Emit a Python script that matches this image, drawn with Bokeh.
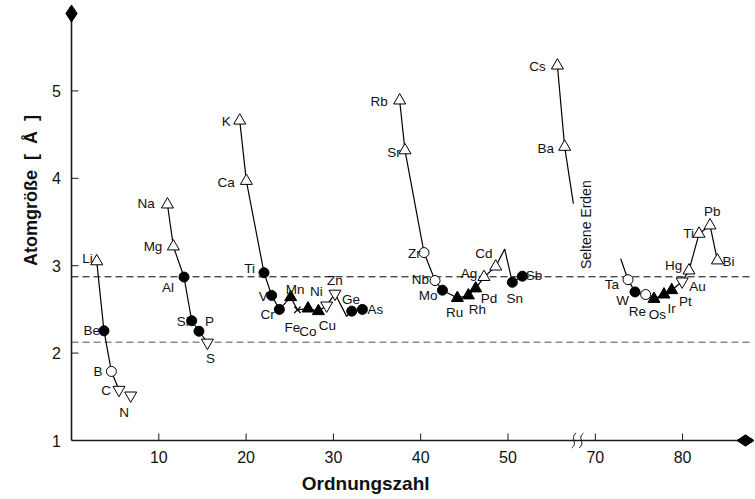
import numpy as np
from bokeh.plotting import figure
from bokeh.models import Range1d, ColumnDataSource
from bokeh.core.properties import value
from bokeh.embed import file_html
from bokeh.resources import INLINE

# ---------------- data ----------------
ELEMENTS = ["Li", "Be", "B", "C", "N",
            "Na", "Mg", "Al", "Si", "P", "S",
            "K", "Ca", "Ti", "V", "Cr", "Mn", "Fe", "Co", "Ni", "Cu", "Zn", "Ge", "As",
            "Rb", "Sr", "Zr", "Nb", "Mo", "Ru", "Rh", "Pd", "Ag", "Cd", "Sn", "Sb",
            "Cs", "Ba",
            "Ta", "W", "Re", "Os", "Ir", "Pt", "Au", "Hg", "Tl", "Pb", "Bi"]
# text shown next to each point (the chart prints "Ti" for thallium)
LABELS = ["Li", "Be", "B", "C", "N",
          "Na", "Mg", "Al", "Si", "P", "S",
          "K", "Ca", "Ti", "V", "Cr", "Mn", "Fe", "Co", "Ni", "Cu", "Zn", "Ge", "As",
          "Rb", "Sr", "Zr", "Nb", "Mo", "Ru", "Rh", "Pd", "Ag", "Cd", "Sn", "Sb",
          "Cs", "Ba",
          "Ta", "W", "Re", "Os", "Ir", "Pt", "Au", "Hg", "Ti", "Pb", "Bi"]
ORDNUNGSZAHL = [2.89, 3.72, 4.57, 5.44, 6.78,
                10.99, 11.67, 12.89, 13.77, 14.60, 15.57,
                19.27, 20.03, 22.05, 22.93, 23.81, 25.11, 25.88, 27.09, 28.28, 29.23, 30.18, 32.10, 33.32,
                37.59, 38.20, 40.38, 41.64, 42.49, 44.20, 45.46, 46.30, 47.25, 48.59, 50.50, 51.65,
                55.66, 56.49,
                73.75, 74.55, 75.77, 76.72, 77.87, 78.75, 79.95, 80.73, 81.88, 83.14, 83.99]
ATOMGROESSE = [3.05, 2.255, 1.79, 1.58, 1.515,
               3.70, 3.22, 2.87, 2.37, 2.25, 2.12,
               4.66, 3.97, 2.92, 2.66, 2.50, 2.64, 2.495, 2.51, 2.48, 2.545, 2.68, 2.48, 2.50,
               4.89, 4.32, 3.15, 2.83, 2.72, 2.63, 2.66, 2.74, 2.87, 2.99, 2.81, 2.88,
               5.29, 4.36,
               2.84, 2.70, 2.67, 2.62, 2.67, 2.72, 2.82, 2.945, 3.365, 3.46, 3.06]
STRUKTUR = ["tri_open", "dot", "ring", "tri_down", "tri_down",
            "tri_open", "tri_open", "dot", "dot", "dot", "tri_down",
            "tri_open", "tri_open", "dot", "dot", "dot", "tri_fill", "cross", "tri_fill", "tri_fill", "tri_down", "tri_down", "dot", "dot",
            "tri_open", "tri_open", "ring", "ring", "dot", "tri_fill", "tri_fill", "tri_fill", "tri_open", "tri_open", "dot", "dot",
            "tri_open", "tri_open",
            "ring", "dot", "ring", "tri_fill", "tri_fill", "tri_fill", "tri_down", "tri_open", "tri_open", "tri_open", "tri_open"]

# curve-only knots (no marker)
KNOT_NAMES = ["Ga", "In", "SE", "Hf"]
KNOT_Z = [31.52, 49.62, 57.49, 72.91]
KNOT_SIZE = [2.42, 3.19, 3.71, 3.08]

CURVES = [["Li", "Be", "B", "C"],
          ["Na", "Mg", "Al", "Si", "P", "S"],
          ["K", "Ca", "Ti", "V", "Cr", "Mn", "Fe", "Co", "Ni", "Cu", "Zn", "Ga", "Ge", "As"],
          ["Rb", "Sr", "Zr", "Nb", "Mo", "Ru", "Rh", "Pd", "Ag", "Cd", "In", "Sn", "Sb"],
          ["Cs", "Ba", "SE"],
          ["Hf", "Ta", "W", "Re", "Os", "Ir", "Pt", "Au", "Hg", "Tl", "Pb", "Bi"]]

REF_LEVELS = [2.873, 2.125]
X_TICKS = [10, 20, 30, 40, 50, 70, 80]
Y_TICKS = [1, 2, 3, 4, 5]
BREAK_FROM, BREAK_TO = 60, 70   # Ordnungszahl 60..70 cut out of the axis
X_TITLE = "Ordnungszahl"
Y_TITLE = "Atomgröße\u00a0\u00a0[\u00a0\u00a0Å\u00a0\u00a0]"
SE_TEXT = "Seltene Erden"

# ---------------- styles ----------------
# label placement: (align, dx px, dy px; dy positive = down)
LABEL_POS = {
    "Li": ("right", -4, -2.5), "Be": ("right", -4, 0), "B": ("right", -9, 0), "C": ("right", -8, 0.5),
    "N": ("center", -6.5, 17.5),
    "Na": ("right", -12.7, -1), "Mg": ("right", -11, 0), "Al": ("right", -10, 10), "Si": ("right", -3, 1),
    "P": ("left", 6, -10), "S": ("center", 3, 16),
    "K": ("right", -9, 1), "Ca": ("right", -11.7, 2), "Ti": ("right", -9, -4), "V": ("right", -4, 1),
    "Cr": ("right", -4.7, 5), "Mn": ("left", -5, -8), "Fe": ("center", -5, 18), "Co": ("center", 0, 22.5),
    "Ni": ("center", -2, -20), "Cu": ("center", 0.7, 20), "Zn": ("center", 0, -13), "Ge": ("center", -0.7, -12),
    "As": ("left", 5, 0),
    "Rb": ("right", -12, 1), "Sr": ("right", -4.3, 2), "Zr": ("right", -3.3, 1), "Nb": ("right", -6, -1),
    "Mo": ("right", -5, 5), "Ru": ("center", -2.7, 14), "Rh": ("center", 9, 14), "Pd": ("left", 5, 10),
    "Ag": ("right", -6.7, -4), "Cd": ("right", -3.3, -13.5), "Sn": ("center", 2.5, 16), "Sb": ("left", 3.3, -0.7),
    "Cs": ("right", -11.7, 0.8), "Ba": ("right", -10.7, 1.7),
    "Ta": ("right", -9, 5), "W": ("right", -6, 9), "Re": ("center", -8.3, 16.5), "Os": ("center", 3.3, 16),
    "Ir": ("center", 7.5, 13.5), "Pt": ("left", 7.3, 11), "Au": ("left", 7, 5), "Hg": ("right", -6.7, -5),
    "Tl": ("right", -5, 0), "Pb": ("center", 2.3, -14), "Bi": ("left", 5, 1),
}
MARKER_STYLE = {
    "tri_open": dict(marker="triangle", size=12, fill_color="white"),
    "tri_fill": dict(marker="triangle", size=12, fill_color="black"),
    "tri_down": dict(marker="inverted_triangle", size=12, fill_color="white"),
    "dot": dict(marker="circle", size=10, fill_color="black"),
    "ring": dict(marker="circle", size=10, fill_color="white"),
    "cross": dict(marker="x", size=9, fill_color="black"),
}
FONT = "Liberation Sans"
AXIS_COLOR = "#1a1a1a"
TEXT_COLOR = "#111111"


def plot_x(z):
    z = np.asarray(z, dtype=float)
    return np.where(z >= BREAK_TO, z - (BREAK_TO - BREAK_FROM), z)


# scale of the picture: px per unit, and where the axes cross
PX_PER_X = 8.73
PX_PER_Y = 87.4
AXIS_LEFT_PX = 71
AXIS_BOTTOM_PX = 440
W, H = 755, 499
x_start = -AXIS_LEFT_PX / PX_PER_X
x_end = (W - AXIS_LEFT_PX) / PX_PER_X
y_start = 1 - (H - AXIS_BOTTOM_PX) / PX_PER_Y
y_end = 1 + AXIS_BOTTOM_PX / PX_PER_Y

p = figure(width=W, height=H, output_backend="svg", toolbar_location=None,
           x_range=Range1d(x_start, x_end), y_range=Range1d(y_start, y_end),
           x_axis_location=None, y_axis_location=None,
           min_border_left=0, min_border_right=0, min_border_top=0, min_border_bottom=0)
p.outline_line_color = None
p.xgrid.visible = False
p.ygrid.visible = False
p.background_fill_color = "white"
p.border_fill_color = "white"

tick_pos = [float(v) for v in plot_x(X_TICKS)]
X_ARROW = (745 - AXIS_LEFT_PX) / PX_PER_X
Y_ARROW = 1 + (AXIS_BOTTOM_PX - 13) / PX_PER_Y
DASH_END = (752 - AXIS_LEFT_PX) / PX_PER_X

# dashed reference levels
for lvl, col in zip(REF_LEVELS, ["#000000", "#555555"]):
    p.line([0, DASH_END], [lvl, lvl], line_dash="7 4", line_color=col, line_width=1)

# axis lines, ticks, arrow heads, break mark
p.line([0, X_ARROW], [1, 1], line_color=AXIS_COLOR, line_width=1.6)
p.line([0, 0], [1, Y_ARROW], line_color=AXIS_COLOR, line_width=1.6)
tick_len_x = 7 / PX_PER_Y
tick_len_y = 7 / PX_PER_X
p.segment(x0=tick_pos, y0=[1] * len(tick_pos), x1=tick_pos, y1=[1 + tick_len_x] * len(tick_pos),
          line_color=AXIS_COLOR, line_width=1)
p.segment(x0=[0] * 4, y0=Y_TICKS[1:], x1=[tick_len_y] * 4, y1=Y_TICKS[1:], line_color=AXIS_COLOR, line_width=1)
p.scatter([0], [Y_ARROW], marker="diamond", size=17, fill_color="black", line_color="black")
p.scatter([X_ARROW], [1], marker="diamond", size=17, angle=np.pi / 2, fill_color="black", line_color="black")
brk = 57.55
for bx in (brk, brk + 0.85):
    p.bezier(x0=[bx - 0.25], y0=[1 - 0.085], x1=[bx + 0.25], y1=[1 + 0.085],
             cx0=[bx + 0.55], cy0=[1 - 0.03], cx1=[bx - 0.55], cy1=[1 + 0.03],
             line_color=AXIS_COLOR, line_width=1)

# tick labels
p.text(x=tick_pos, y=[1] * len(tick_pos), text=[str(t) for t in X_TICKS], y_offset=16.8,
       text_font=value(FONT), text_font_size=value("16px"), text_align="center",
       text_baseline="middle", text_color=TEXT_COLOR)
p.text(x=[0] * len(Y_TICKS), y=Y_TICKS, text=[str(t) for t in Y_TICKS], x_offset=-10.5,
       text_font=value(FONT), text_font_size=value("16px"), text_align="right",
       text_baseline="middle", text_color=TEXT_COLOR)

# axis titles
p.text(x=[(365.2 - AXIS_LEFT_PX) / PX_PER_X], y=[1], text=[X_TITLE], y_offset=43.2,
       text_font=value(FONT), text_font_size=value("19px"), text_font_style="bold",
       text_align="center", text_baseline="middle", text_color=TEXT_COLOR)
p.text(x=[0], y=[1 + (AXIS_BOTTOM_PX - 190) / PX_PER_Y], text=[Y_TITLE], x_offset=-41, angle=np.pi / 2,
       text_font=value(FONT), text_font_size=value("18px"), text_font_style="bold",
       text_align="center", text_baseline="middle", text_color=TEXT_COLOR)

# lookup
pos = {}
for n, z, s in zip(ELEMENTS, ORDNUNGSZAHL, ATOMGROESSE):
    pos[n] = (z, s)
for n, z, s in zip(KNOT_NAMES, KNOT_Z, KNOT_SIZE):
    pos[n] = (z, s)

for curve in CURVES:
    zs = [pos[n][0] for n in curve]
    ys = [pos[n][1] for n in curve]
    p.line(plot_x(zs), ys, line_color="black", line_width=1.2)

for kind, st in MARKER_STYLE.items():
    idx = [i for i, k in enumerate(STRUKTUR) if k == kind]
    if not idx:
        continue
    xs = plot_x([ORDNUNGSZAHL[i] for i in idx])
    ys = [ATOMGROESSE[i] for i in idx]
    lw = 1.3 if kind == "cross" else 1
    p.scatter(xs, ys, marker=st["marker"], size=st["size"], fill_color=st["fill_color"],
              line_color="black", line_width=lw)

for align in ("left", "center", "right"):
    idx = [i for i, n in enumerate(ELEMENTS) if LABEL_POS[n][0] == align]
    src = ColumnDataSource(dict(
        x=plot_x([ORDNUNGSZAHL[i] for i in idx]),
        y=[ATOMGROESSE[i] for i in idx],
        t=[LABELS[i] for i in idx],
        dx=[LABEL_POS[ELEMENTS[i]][1] for i in idx],
        dy=[LABEL_POS[ELEMENTS[i]][2] for i in idx],
    ))
    p.text(x="x", y="y", text="t", x_offset="dx", y_offset="dy", source=src,
           text_font=value(FONT), text_font_size=value("13.5px"), text_align=value(align),
           text_baseline=value("middle"), text_color=TEXT_COLOR)

# "Seltene Erden" (rare earths) note along the broken part of the axis
p.text(x=[(585 - AXIS_LEFT_PX) / PX_PER_X], y=[1 + (AXIS_BOTTOM_PX - 224.2) / PX_PER_Y], text=[SE_TEXT],
       angle=np.pi / 2, text_font=value(FONT), text_font_size=value("14px"), text_align="center",
       text_baseline="middle", text_color=TEXT_COLOR)

open("out.html", "w").write(file_html(p, INLINE))
